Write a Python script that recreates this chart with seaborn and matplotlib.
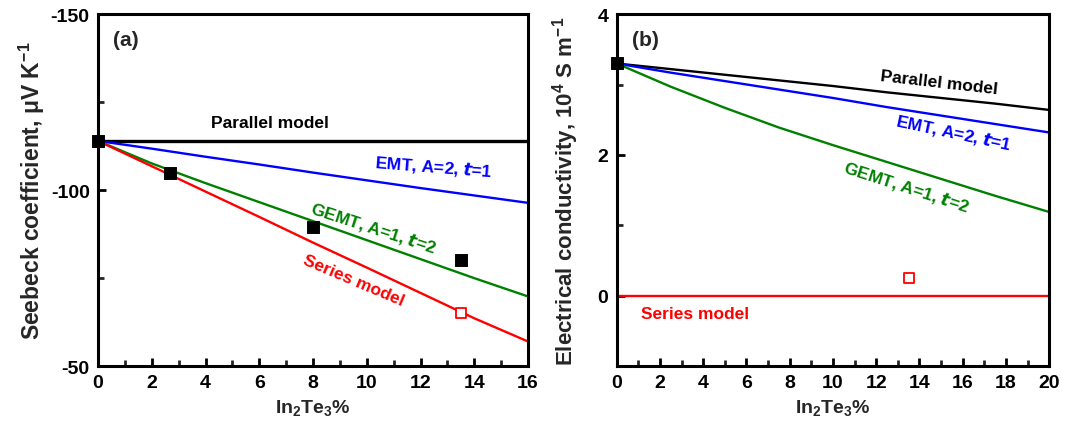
import numpy as np
import pandas as pd
import matplotlib
matplotlib.use("Agg")
import matplotlib.pyplot as plt
from matplotlib.ticker import MultipleLocator
import seaborn as sns

# ---------------- data ----------------
# Panel (a): Seebeck coefficient vs In2Te3 %
a_x = [0, 2, 4, 6, 8, 10, 12, 14, 16]
a_parallel = [-114, -114, -114, -114, -114, -114, -114, -114, -114]
a_emt = [-114, -111.8, -109.5, -107.3, -105.0, -102.8, -100.6, -98.5, -96.4]
a_gemt = [-114, -107.6, -102.0, -96.6, -91.2, -85.8, -80.4, -75.0, -69.8]
a_series = [-114, -106.8, -99.6, -92.4, -85.1, -78.0, -70.8, -63.6, -57.0]
a_meas_x = [0, 2.67, 8, 13.5]
a_meas_y = [-114, -105, -89.4, -80.1]
a_open_x = [13.5]
a_open_y = [-65.0]

# Panel (b): electrical conductivity vs In2Te3 %
b_x = [0, 2.5, 5, 7.5, 10, 12.5, 15, 17.5, 20]
b_parallel = [3.30, 3.22, 3.14, 3.06, 2.98, 2.89, 2.81, 2.73, 2.64]
b_emt = [3.30, 3.17, 3.05, 2.93, 2.81, 2.68, 2.56, 2.44, 2.32]
b_gemt = [3.30, 2.97, 2.67, 2.39, 2.14, 1.90, 1.66, 1.42, 1.19]
b_series = [0, 0, 0, 0, 0, 0, 0, 0, 0]
b_meas_x = [0]
b_meas_y = [3.30]
b_open_x = [13.5]
b_open_y = [0.25]

# ---------------- style ----------------
sns.set_theme(style="ticks")
plt.rcParams["font.family"] = ["Liberation Sans", "DejaVu Sans"]
plt.rcParams["font.weight"] = "bold"
plt.rcParams["mathtext.default"] = "regular"
plt.rcParams["axes.unicode_minus"] = False
plt.rcParams["xtick.direction"] = "in"
plt.rcParams["ytick.direction"] = "in"

BLACK, BLUE, GREEN, RED = "#000000", "#0000ff", "#008000", "#ff0000"

fig = plt.figure(figsize=(10.75, 4.35), dpi=100)
axA = fig.add_axes([0.0912, 0.156, 0.400, 0.809])
axB = fig.add_axes([0.5737, 0.156, 0.4023, 0.809])


def style_axes(ax):
    for s in ax.spines.values():
        s.set_linewidth(2.2)
        s.set_color("black")
    ax.tick_params(which="major", length=6, width=2, labelsize=14, pad=6,
                   top=False, right=False, colors="black")
    ax.tick_params(which="minor", length=4, width=2, top=False, right=False)
    for lab in ax.get_xticklabels() + ax.get_yticklabels():
        lab.set_fontweight("bold")


# ---- panel (a) ----
dfa = pd.DataFrame({"x": a_x, "par": a_parallel, "emt": a_emt,
                    "gemt": a_gemt, "ser": a_series})
sns.lineplot(data=dfa, x="x", y="par", ax=axA, color=BLACK, linewidth=2.4)
sns.lineplot(data=dfa, x="x", y="emt", ax=axA, color=BLUE, linewidth=1.7)
sns.lineplot(data=dfa, x="x", y="gemt", ax=axA, color=GREEN, linewidth=1.7)
sns.lineplot(data=dfa, x="x", y="ser", ax=axA, color=RED, linewidth=1.7)
sns.scatterplot(x=a_meas_x, y=a_meas_y, ax=axA, marker="s", s=70,
                color="black", edgecolor="black", zorder=5, clip_on=False)
sns.scatterplot(x=a_open_x, y=a_open_y, ax=axA, marker="s", s=45,
                facecolor="white", edgecolor=RED, linewidth=1.3, zorder=5)
axA.set_xlim(0, 16)
axA.set_ylim(-50, -150)
axA.xaxis.set_major_locator(MultipleLocator(2))
axA.xaxis.set_minor_locator(MultipleLocator(1))
axA.yaxis.set_major_locator(MultipleLocator(50))
axA.yaxis.set_minor_locator(MultipleLocator(25))
axA.set_xlabel("In$_2$Te$_3$%", fontsize=14, fontweight="bold", labelpad=4)
axA.set_ylabel("Seebeck coefficient, \u03bcV K$^{-1}$", fontsize=16.5,
               fontweight="bold", labelpad=3)
style_axes(axA)
axA.text(0.035, 0.955, "(a)", transform=axA.transAxes, fontsize=15,
         fontweight="bold", va="top", ha="left")
axA.text(6.4, -119.3, "Parallel model", fontsize=12.5, fontweight="bold",
         color=BLACK, ha="center", va="center")
axA.text(12.5, -106.8, "EMT, A=2, $\\it{t}$=1", fontsize=12.5, fontweight="bold",
         color=BLUE, ha="center", va="center", rotation=-4.5)
axA.text(10.25, -89.6, "GEMT, A=1, $\\it{t}$=2", fontsize=12.5, fontweight="bold",
         color=GREEN, ha="center", va="center", rotation=-18)
axA.text(9.5, -74.5, "Series model", fontsize=12.5, fontweight="bold",
         color=RED, ha="center", va="center", rotation=-23)

# ---- panel (b) ----
dfb = pd.DataFrame({"x": b_x, "par": b_parallel, "emt": b_emt,
                    "gemt": b_gemt, "ser": b_series})
sns.lineplot(data=dfb, x="x", y="par", ax=axB, color=BLACK, linewidth=1.7)
sns.lineplot(data=dfb, x="x", y="emt", ax=axB, color=BLUE, linewidth=1.7)
sns.lineplot(data=dfb, x="x", y="gemt", ax=axB, color=GREEN, linewidth=1.7)
sns.lineplot(data=dfb, x="x", y="ser", ax=axB, color=RED, linewidth=1.7)
sns.scatterplot(x=b_meas_x, y=b_meas_y, ax=axB, marker="s", s=70,
                color="black", edgecolor="black", zorder=5, clip_on=False)
sns.scatterplot(x=b_open_x, y=b_open_y, ax=axB, marker="s", s=45,
                facecolor="white", edgecolor=RED, linewidth=1.3, zorder=5)
axB.set_xlim(0, 20)
axB.set_ylim(-1, 4)
axB.xaxis.set_major_locator(MultipleLocator(2))
axB.xaxis.set_minor_locator(MultipleLocator(1))
axB.yaxis.set_major_locator(MultipleLocator(2))
axB.yaxis.set_minor_locator(MultipleLocator(1))
axB.set_xlabel("In$_2$Te$_3$%", fontsize=14, fontweight="bold", labelpad=4)
axB.set_ylabel("Electrical conductivity, 10$^4$ S m$^{-1}$", fontsize=16,
               fontweight="bold", labelpad=12)
style_axes(axB)
axB.text(0.035, 0.955, "(b)", transform=axB.transAxes, fontsize=15,
         fontweight="bold", va="top", ha="left")
axB.text(14.9, 3.04, "Parallel model", fontsize=12.5, fontweight="bold",
         color=BLACK, ha="center", va="center", rotation=-6.5)
axB.text(15.6, 2.33, "EMT, A=2, $\\it{t}$=1", fontsize=12.5, fontweight="bold",
         color=BLUE, ha="center", va="center", rotation=-12)
axB.text(13.4, 1.56, "GEMT, A=1, $\\it{t}$=2", fontsize=12.5, fontweight="bold",
         color=GREEN, ha="center", va="center", rotation=-18)
axB.text(3.6, -0.25, "Series model", fontsize=12.5, fontweight="bold",
         color=RED, ha="center", va="center")

fig.savefig("out.png", dpi=100)
